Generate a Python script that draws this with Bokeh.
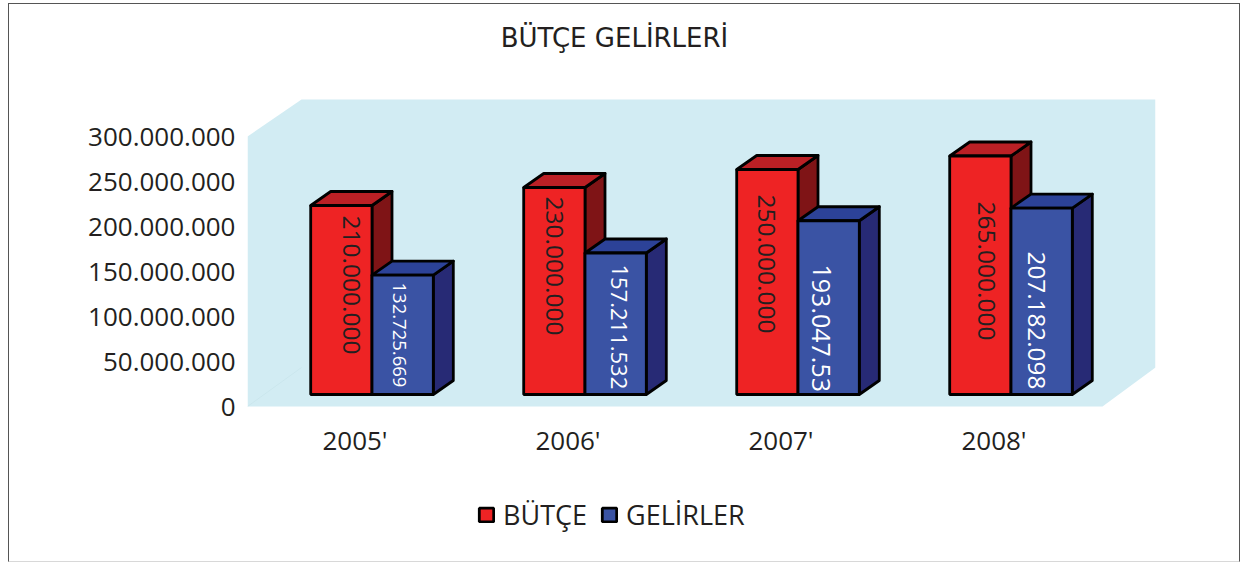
from bokeh.plotting import figure
from bokeh.models import Range1d, LinearAxis, FixedTicker, Label, Legend, LegendItem
from bokeh.core.properties import value
from bokeh.embed import file_html
from bokeh.resources import INLINE

years = ["2005'", "2006'", "2007'", "2008'"]
butce = [210000000, 230000000, 250000000, 265000000]
gelirler = [132725669, 157211532, 193047530, 207182098]
butce_labels = ["210.000.000", "230.000.000", "250.000.000", "265.000.000"]
gelir_labels = ["132.725.669", "157.211.532", "193.047.53", "207.182.098"]
y_ticks = [0, 50000000, 100000000, 150000000, 200000000, 250000000, 300000000]
y_tick_labels = ["0", "50.000.000", "100.000.000", "150.000.000", "200.000.000", "250.000.000", "300.000.000"]
title_text = "BÜTÇE GELİRLERİ"
FONT = "Open Sans"
INK = "#231f20"

# page-pixel geometry of the plot frame (it runs past the wall to hold title and legend)
W, H = 1232, 559
L, R, T, B = 248, 1156, 10, 548
FLOOR_PX = 407
BW = 2             # css border thickness around the canvas
ORG_X, ORG_Y = 8, 3
ZERO_PX = 395      # pixel of value 0 on the bar plane
PX_PER_UNIT = 0.9 / 1e6
GROUP0_PX, GROUP_STEP = 372.5, 213.0
BAR_W = 61.3 / GROUP_STEP
DX, DY = 20 / GROUP_STEP, 14 / PX_PER_UNIT

def xpx(px):
    return (px - GROUP0_PX) / GROUP_STEP

def ypx(px):
    return (ZERO_PX - px) / PX_PER_UNIT

left_b = L - ORG_X - BW
top_b = T - ORG_Y - BW
p = figure(width=W, height=H, output_backend="svg", toolbar_location=None,
           x_range=Range1d(xpx(L), xpx(R)), y_range=Range1d(ypx(B), ypx(T)),
           min_border_left=left_b, min_border_top=top_b,
           min_border_right=W - left_b - (R - L), min_border_bottom=H - top_b - (B - T),
           x_axis_type=None, y_axis_type=None,
           background_fill_color="white", border_fill_color="white", outline_line_color=None,
           margin=(ORG_Y, 4, 0, ORG_X))
p.styles = {"border": "1.5px solid #555555", "border-bottom": "1.5px solid #d8d8d8",
            "box-sizing": "border-box"}
p.grid.visible = False

# wall
p.patch([xpx(248), xpx(302), xpx(1156), xpx(1156), xpx(1103), xpx(248)],
        [ypx(137), ypx(100), ypx(100), ypx(368), ypx(407), ypx(407)],
        fill_color="#d2ecf3", line_color=None)
p.line([xpx(248), xpx(302)], [ypx(407), ypx(368)], line_color="#c3e0e7", line_width=0.5)

# axes: the value scale is read on the front plane of the floor
p.extra_y_ranges = {"front": Range1d((FLOOR_PX - B) / 0.9 * 1e6, (FLOOR_PX - T) / 0.9 * 1e6)}
yax = LinearAxis(y_range_name="front", ticker=FixedTicker(ticks=y_ticks),
                 major_label_overrides={t: s for t, s in zip(y_ticks, y_tick_labels)},
                 axis_line_color=None, major_tick_line_color=None, minor_tick_line_color=None,
                 major_label_text_font=FONT, major_label_text_font_size="26px",
                 major_label_text_color=INK, major_label_standoff=6)
p.add_layout(yax, "left")

p.extra_x_ranges = {"labels": Range1d(xpx(L) + 17 / GROUP_STEP, xpx(R) + 17 / GROUP_STEP)}
xax = LinearAxis(x_range_name="labels", ticker=FixedTicker(ticks=list(range(len(years)))),
                 major_label_overrides={i: s for i, s in enumerate(years)},
                 axis_line_color=None, major_tick_line_color=None, minor_tick_line_color=None,
                 major_label_text_font=FONT, major_label_text_font_size="26px",
                 major_label_text_color=INK, major_label_standoff=-132)
p.add_layout(xax, "below")

def bars(offset, vals, front, top, side):
    xs = [i + offset for i in range(len(vals))]
    left = [x - BAR_W / 2 for x in xs]
    right = [x + BAR_W / 2 for x in xs]
    p.patches([[r, r + DX, r + DX, r] for r in right],
              [[0, DY, v + DY, v] for v in vals],
              fill_color=side, line_color="black", line_width=2.8, line_join="round")
    p.patches([[l, l + DX, r + DX, r] for l, r in zip(left, right)],
              [[v, v + DY, v + DY, v] for v in vals],
              fill_color=top, line_color="black", line_width=2.8, line_join="round")
    return p.quad(left=left, right=right, bottom=0, top=vals, fill_color=front,
                  line_color="black", line_width=2.8)

r1 = bars(-BAR_W / 2, butce, "#ee2324", "#bb2025", "#7f1416")
r2 = bars(BAR_W / 2, gelirler, "#3a53a4", "#2c4298", "#272a75")

# rotated value labels: centre x pixel, top y pixel, font size
b_x, b_y, b_s = [352, 555, 767, 987], [216, 197, 195, 202], 24.5
g_x, g_y, g_s = [400, 620, 822, 1037], [283, 265, 265, 252], [18.5, 22, 25, 24.3]
p.text([xpx(v) for v in b_x], [ypx(v) for v in b_y], text=butce_labels, angle=-1.5708,
       text_font=value(FONT), text_font_size=f"{b_s}px", text_color=INK,
       text_align="left", text_baseline="middle")
for x, y, t, s in zip(g_x, g_y, gelir_labels, g_s):
    p.text([xpx(x)], [ypx(y)], text=[t], angle=-1.5708, text_font=value(FONT),
           text_font_size=f"{s}px", text_color="white", text_align="left", text_baseline="middle")

# Label screen units count from the frame's lower-left corner
p.add_layout(Label(x=615 - L, y=B - 38, x_units="screen", y_units="screen", text=title_text,
                   text_font="DejaVu Sans", text_font_size="26px", text_color=INK,
                   text_align="center", text_baseline="middle"))

legend = Legend(items=[LegendItem(label="BÜTÇE", renderers=[r1], index=0),
                       LegendItem(label="GELİRLER", renderers=[r2], index=0)],
                orientation="horizontal", location=(478 - L, B - 534), background_fill_alpha=0,
                border_line_color=None, label_text_font=FONT, label_text_font_size="27px",
                label_text_color=INK, glyph_width=18, glyph_height=17, spacing=13, padding=0, margin=0,
                label_standoff=8)
p.add_layout(legend, "center")

open("out.html", "w").write(file_html(p, INLINE))
